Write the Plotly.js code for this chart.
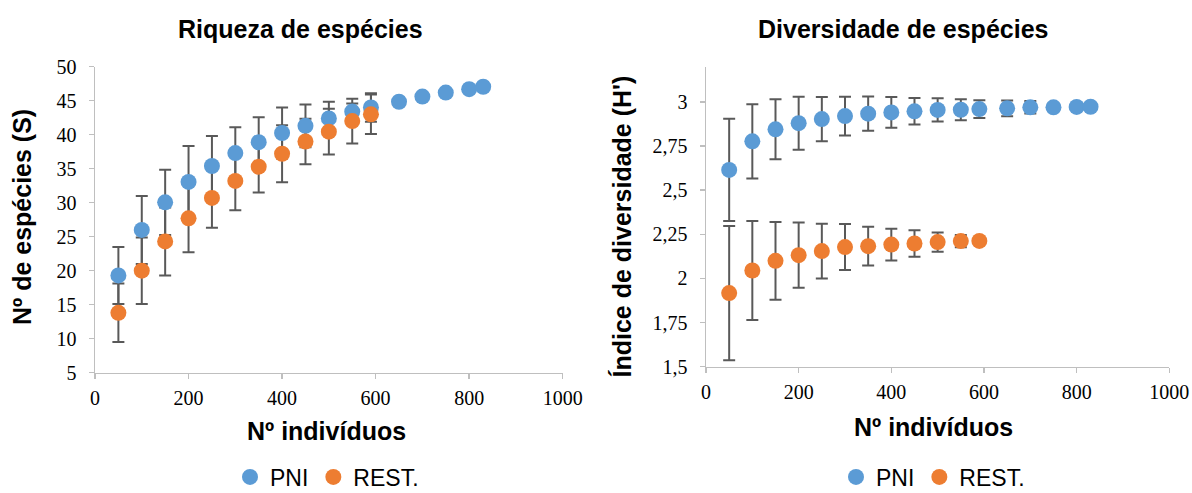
<!DOCTYPE html>
<html>
<head>
<meta charset="utf-8">
<script src="https://cdn.plot.ly/plotly-3.0.1.min.js"></script>
<style>
html,body{margin:0;padding:0;background:#fff;}
#chart{width:1192px;height:493px;}
</style>
</head>
<body>
<div id="chart"></div>
<script>
// ---- data ----
const seriesNames = ["PNI", "REST."];
const individuosPNI = [50,100,150,200,250,300,350,400,450,500,550,590,650,700,750,800,830];
const individuosREST = [50,100,150,200,250,300,350,400,450,500,550,590];

// Riqueza de espécies (S)
const riquezaPNI = [19.3,26.0,30.05,33.05,35.4,37.3,38.9,40.25,41.3,42.4,43.4,44.0,44.85,45.6,46.2,46.7,47.05];
const riquezaPNIerr = [4.2,5.0,4.8,5.3,4.4,3.8,3.65,3.75,3.15,2.45,1.2,2.1,0,0,0,0,0];
const riquezaREST = [13.8,20.0,24.3,27.7,30.7,33.2,35.3,37.2,39.0,40.45,42.0,43.0];
const riquezaRESTerr = [4.3,4.9,5.0,5.0,4.4,4.3,3.8,4.2,3.35,3.35,3.3,2.9];

// Diversidade de espécies (H')
const diversidadePNI = [2.615,2.777,2.845,2.88,2.903,2.92,2.934,2.941,2.947,2.955,2.956,2.96,2.964,2.97,2.97,2.972,2.973];
const diversidadePNIerr = [0.29,0.21,0.17,0.15,0.125,0.11,0.097,0.087,0.075,0.066,0.06,0.05,0.045,0.035,0.02,0.008,0];
const diversidadeREST = [1.917,2.045,2.1,2.132,2.155,2.178,2.183,2.192,2.198,2.206,2.212,2.213];
const diversidadeRESTerr = [0.38,0.28,0.22,0.185,0.155,0.13,0.11,0.09,0.075,0.055,0.035,0.015];

// tick labels
const xTickVals = [0,200,400,600,800,1000];
const xTickText = ["0","200","400","600","800","1000"];
const sTickVals = [5,10,15,20,25,30,35,40,45,50];
const sTickText = ["5","10","15","20","25","30","35","40","45","50"];
const hTickVals = [1.5,1.75,2,2.25,2.5,2.75,3];
const hTickText = ["1,5","1,75","2","2,25","2,5","2,75","3"];

// text
const titleLeft = "Riqueza de espécies";
const titleRight = "Diversidade de espécies";
const xTitle = "Nº indivíduos";
const yTitleLeft = "Nº de espécies (S)";
const yTitleRight = "Índice de diversidade (H')";

// ---- style ----
const BLUE = "#5B9BD5", ORANGE = "#ED7D31", ERR = "#595959", AXIS = "#BFBFBF";
const SANS = "Liberation Sans, Arial, sans-serif";
const SERIF = "Liberation Serif, Times New Roman, serif";

// error bars drawn first (underneath all markers), as in the original
function errTrace(x, y, err, xa, ya) {
  return {
    type: "scatter", mode: "markers", x: x, y: y, xaxis: xa, yaxis: ya,
    showlegend: false, marker: {size: 1, opacity: 0},
    error_y: {type: "data", array: err, visible: true, color: ERR, thickness: 2, width: 6},
    hoverinfo: "skip"
  };
}
function pt(x, y, name, color, xa, ya, leg) {
  return {
    type: "scatter", mode: "markers", x: x, y: y, name: name,
    xaxis: xa, yaxis: ya, legend: leg, showlegend: true,
    marker: {color: color, size: 16, line: {width: 0}},
    hoverinfo: "skip"
  };
}

const traces = [
  errTrace(individuosPNI, riquezaPNI, riquezaPNIerr, "x", "y"),
  errTrace(individuosREST, riquezaREST, riquezaRESTerr, "x", "y"),
  errTrace(individuosPNI, diversidadePNI, diversidadePNIerr, "x2", "y2"),
  errTrace(individuosREST, diversidadeREST, diversidadeRESTerr, "x2", "y2"),
  pt(individuosPNI, riquezaPNI, seriesNames[0], BLUE, "x", "y", "legend"),
  pt(individuosREST, riquezaREST, seriesNames[1], ORANGE, "x", "y", "legend"),
  pt(individuosPNI, diversidadePNI, seriesNames[0], BLUE, "x2", "y2", "legend2"),
  pt(individuosREST, diversidadeREST, seriesNames[1], ORANGE, "x2", "y2", "legend2")
];

function xax(domain, anchor) {
  return {
    domain: domain, anchor: anchor, range: [0, 1000], tickvals: xTickVals, ticktext: xTickText,
    showgrid: false, zeroline: false, showline: true, linecolor: AXIS, linewidth: 1.5,
    ticks: "outside", ticklen: 5, tickcolor: AXIS, tickwidth: 1.5, ticklabelstandoff: 2,
    tickfont: {family: SERIF, size: 20, color: "#000"}, fixedrange: true, automargin: false
  };
}
function yax(domain, anchor, range, vals, text) {
  return {
    domain: domain, anchor: anchor, range: range, tickvals: vals, ticktext: text,
    showgrid: false, zeroline: false, showline: true, linecolor: AXIS, linewidth: 1.5,
    ticks: "outside", ticklen: 5, tickcolor: AXIS, tickwidth: 1.5, ticklabelstandoff: 8,
    tickfont: {family: SERIF, size: 20, color: "#000"}, fixedrange: true, automargin: false
  };
}

function legendCfg(xc) {
  return {
    orientation: "h", xref: "container", yref: "container",
    x: xc, xanchor: "center", y: 16 / 493, yanchor: "middle",
    font: {family: SANS, size: 23, color: "#000"}, bgcolor: "rgba(0,0,0,0)",
    itemsizing: "trace", itemwidth: 30, tracegroupgap: 0, borderwidth: 0
  };
}

function ann(text, x, y, size, bold, angle) {
  return {
    text: bold ? "<b>" + text + "</b>" : text, xref: "paper", yref: "paper", x: x, y: y,
    xanchor: "center", yanchor: "middle", showarrow: false, textangle: angle || 0,
    font: {family: SANS, size: size, color: "#000"}
  };
}

const W = 1192, H = 493;
const layout = {
  width: W, height: H,
  margin: {l: 0, r: 0, t: 0, b: 0, autoexpand: false},
  paper_bgcolor: "#fff", plot_bgcolor: "#fff",
  showlegend: true,
  xaxis: xax([95 / W, 562.7 / W], "y"),
  yaxis: yax([(H - 372.7) / H, (H - 66.7) / H], "x", [5, 50], sTickVals, sTickText),
  xaxis2: xax([706 / W, 1169.3 / W], "y2"),
  yaxis2: yax([(H - 366.7) / H, (H - 66.7) / H], "x2", [1.5, 3.2], hTickVals, hTickText),
  legend: legendCfg(327 / W),
  legend2: legendCfg(933 / W),
  annotations: [
    ann(titleLeft, 300 / W, (H - 29) / H, 25, true),
    ann(titleRight, 902.5 / W, (H - 29) / H, 25, true),
    ann(xTitle, 326.7 / W, (H - 431) / H, 25, true),
    ann(xTitle, 933 / W, (H - 427) / H, 25, true),
    ann(yTitleLeft, 22 / W, (H - 217) / H, 25, true, -90),
    ann(yTitleRight, 622 / W, (H - 226.5) / H, 25, true, -90)
  ]
};

Plotly.newPlot("chart", traces, layout, {staticPlot: true, displayModeBar: false});
</script>
</body>
</html>
